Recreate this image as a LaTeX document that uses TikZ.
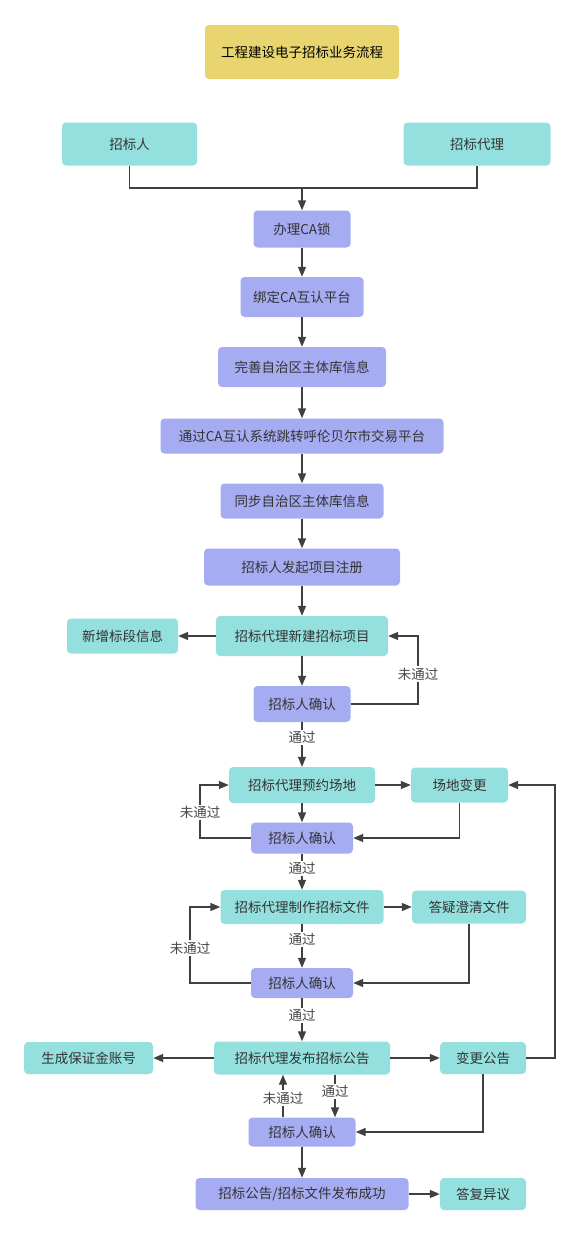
\documentclass[tikz,border=0pt]{standalone}
\usepackage{fontspec}
\setmainfont{Noto Sans CJK SC}
\usetikzlibrary{arrows.meta}
\definecolor{tealfill}{RGB}{148,224,222}
\definecolor{purplefill}{RGB}{166,172,242}
\definecolor{titlefill}{RGB}{232,213,112}
\definecolor{linegray}{RGB}{64,64,64}
\definecolor{textgray}{RGB}{51,51,51}
\begin{document}
\begin{tikzpicture}[x=1pt, y=-1pt,
	box/.style = {rounded corners=4pt, inner sep=0pt, text=textgray, font=\fontsize{13.5}{16}\selectfont},
	tealbox/.style = {box, fill=tealfill},
	purplebox/.style = {box, fill=purplefill},
	arr/.style = {linegray, line width=1.4pt, -{Triangle[length=10pt, width=8pt]}},
	conn/.style = {linegray, line width=1.4pt},
	lbl/.style = {fill=white, inner sep=1.5pt, text=textgray!90, font=\fontsize{13.5}{16}\selectfont}]
	
	\useasboundingbox (0,0) rectangle (579,1234);
	
	\node[box, fill=titlefill, minimum width=194pt, minimum height=54pt, text=black] (title) at (302,52) {工程建设电子招标业务流程};
	
	\node[tealbox, minimum width=135pt, minimum height=43pt] (zbr) at (129.5,144) {招标人};
	\node[tealbox, minimum width=147pt, minimum height=43pt] (zbdl) at (477,144) {招标代理};
	
	\node[purplebox, minimum width=97pt, minimum height=37pt] (ca) at (302,229) {办理CA锁};
	\node[purplebox, minimum width=123pt, minimum height=40pt] (bd) at (302,297) {绑定CA互认平台};
	\node[purplebox, minimum width=168pt, minimum height=40pt] (ws) at (302,367) {完善自治区主体库信息};
	\node[purplebox, minimum width=283pt, minimum height=35pt] (tg) at (302,436) {通过CA互认系统跳转呼伦贝尔市交易平台};
	\node[purplebox, minimum width=163pt, minimum height=35pt] (tb) at (302,501) {同步自治区主体库信息};
	\node[purplebox, minimum width=196pt, minimum height=37pt] (fq) at (302,567) {招标人发起项目注册};
	
	\node[tealbox, minimum width=172pt, minimum height=40pt] (xj) at (302,636) {招标代理新建招标项目};
	\node[tealbox, minimum width=111pt, minimum height=35pt] (xzbd) at (122.5,636) {新增标段信息};
	\node[purplebox, minimum width=97pt, minimum height=36pt] (qra) at (302,704) {招标人确认};
	
	\node[tealbox, minimum width=146pt, minimum height=36pt] (yy) at (302,785) {招标代理预约场地};
	\node[tealbox, minimum width=97pt, minimum height=35pt] (cdbg) at (459.5,785) {场地变更};
	\node[purplebox, minimum width=102pt, minimum height=31pt] (qrb) at (302,838) {招标人确认};
	
	\node[tealbox, minimum width=163pt, minimum height=34pt] (zz) at (302,907) {招标代理制作招标文件};
	\node[tealbox, minimum width=114pt, minimum height=33pt] (dy) at (469,907) {答疑澄清文件};
	\node[purplebox, minimum width=102pt, minimum height=30pt] (qrc) at (302,983) {招标人确认};
	
	\node[tealbox, minimum width=176pt, minimum height=33pt] (fb) at (302,1058) {招标代理发布招标公告};
	\node[tealbox, minimum width=129pt, minimum height=32pt] (bzj) at (88.5,1058) {生成保证金账号};
	\node[tealbox, minimum width=86pt, minimum height=32pt] (bg) at (483,1058) {变更公告};
	\node[purplebox, minimum width=107pt, minimum height=29pt] (qrd) at (302,1132) {招标人确认};
	
	\node[purplebox, minimum width=213pt, minimum height=32pt] (cg) at (302,1194) {招标公告/招标文件发布成功};
	\node[tealbox, minimum width=86pt, minimum height=32pt] (dfyy) at (483,1194) {答复异议};
	
	% 起始
	\coordinate (jn) at (302,188);
	\draw[conn] (zbr.south) |- (jn) -| (zbdl.south);
	\draw[arr] (jn) -- (ca.north);
	\draw[arr] (ca) -- (bd);
	\draw[arr] (bd) -- (ws);
	\draw[arr] (ws) -- (tg);
	\draw[arr] (tg) -- (tb);
	\draw[arr] (tb) -- (fq);
	\draw[arr] (fq) -- (xj);
	
	% 新建项目
	\draw[arr] (xj.west) -- (xzbd.east);
	\draw[arr] (xj) -- (qra);
	\coordinate (loopa) at (418,636);
	\draw[arr] (qra.east) -| node[lbl, pos=0.72] {未通过} (loopa) -- (xj.east);
	\draw[arr] (qra) -- node[lbl, pos=0.35] {通过} (yy);
	
	% 预约场地
	\draw[arr] (yy.east) -- (cdbg.west);
	\draw[arr] (yy) -- (qrb);
	\draw[arr] (cdbg.south) |- (qrb.east);
	\coordinate (loopb) at (200,785);
	\draw[arr] (qrb.west) -| node[lbl, pos=0.74] {未通过} (loopb) -- (yy.west);
	\draw[arr] (qrb) -- node[lbl, pos=0.4] {通过} (zz);
	
	% 招标文件
	\draw[arr] (zz.east) -- (dy.west);
	\draw[arr] (zz) -- node[lbl, pos=0.35] {通过} (qrc);
	\draw[arr] (dy.south) |- (qrc.east);
	\coordinate (loopc) at (190,907);
	\draw[arr] (qrc.west) -| node[lbl, pos=0.73] {未通过} (loopc) -- (zz.west);
	\draw[arr] (qrc) -- node[lbl, pos=0.4] {通过} (fb);
	
	% 招标公告
	\draw[arr] (fb.west) -- (bzj.east);
	\draw[arr] (fb.east) -- (bg.west);
	\coordinate (loopd) at (555,785);
	\draw[arr] (bg.east) -| (loopd) -- (cdbg.east);
	\draw[arr] (bg.south) |- (qrd.east);
	\draw[arr] ([xshift=-19pt]qrd.north) -- node[lbl, pos=0.45] {未通过} ([xshift=-19pt]fb.south);
	\draw[arr] ([xshift=33pt]fb.south) -- node[lbl, pos=0.4] {通过} ([xshift=33pt]qrd.north);
	\draw[arr] (qrd) -- (cg);
	\draw[arr] (cg.east) -- (dfyy.west);
\end{tikzpicture}
\end{document}
